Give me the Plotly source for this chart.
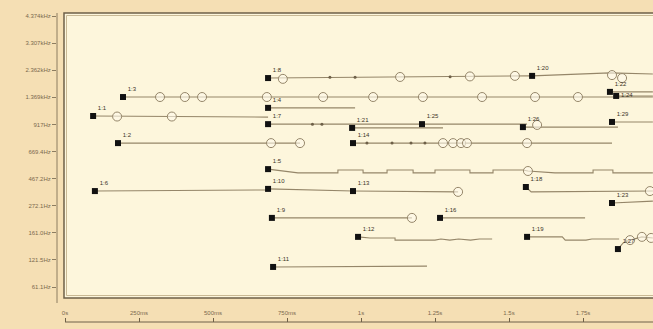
import plotly.graph_objects as go

# ---------------- data ----------------
x_tick_vals = [0, 0.25, 0.5, 0.75, 1.0, 1.25, 1.5, 1.75, 2.0]
x_tick_text = ["0s", "250ms", "500ms", "750ms", "1s", "1.25s", "1.5s", "1.75s", "2s"]

y_tick_vals = [0, 1, 2, 3, 4, 5, 6, 7, 8, 9, 10]
y_tick_text = ["61.1Hz", "121.5Hz", "161.0Hz", "272.1Hz", "467.2Hz", "669.4Hz",
               "917Hz", "1.369kHz", "2.362kHz", "3.307kHz", "4.374kHz"]

track_names = ["1:1", "1:3", "1:2", "1:8", "1:20", "1:4", "1:7", "1:21", "1:25",
               "1:26", "1:29", "1:14", "1:5", "1:6", "1:10", "1:13", "1:18",
               "1:23", "1:9", "1:16", "1:12", "1:19", "1:27", "1:11", "1:22", "1:24"]

track_t = [
    [0.095, 0.686],
    [0.196, 1.986],
    [0.179, 0.794],
    [0.686, 1.132, 1.571],
    [1.578, 1.841, 1.986],
    [0.686, 0.980],
    [0.686, 1.206],
    [0.970, 1.277],
    [1.206, 1.561],
    [1.547, 1.868],
    [1.848, 1.986],
    [0.973, 1.848],
    [0.686, 0.743, 0.787, 0.922, 0.922, 1.007, 1.007, 1.088, 1.088, 1.176, 1.176,
     1.250, 1.250, 1.368, 1.368, 1.446, 1.446, 1.547, 1.564, 1.655, 1.784, 1.784,
     1.851, 1.851, 1.986],
    [0.101, 0.686],
    [0.686, 0.973],
    [0.973, 1.328],
    [1.557, 1.575, 1.986],
    [1.848, 1.986],
    [0.699, 1.172],
    [1.267, 1.757],
    [0.990, 1.030, 1.115, 1.115, 1.250, 1.270, 1.300, 1.330, 1.370, 1.400, 1.443],
    [1.561, 1.680, 1.690, 1.760, 1.780, 1.872],
    [1.868, 1.885, 1.909, 1.949, 1.986],
    [0.703, 1.223],
    [1.841, 1.986],
    [1.862, 1.986],
]

track_lvl = [
    [6.31, 6.27],
    [7.01, 7.01],
    [5.31, 5.31],
    [7.71, 7.75, 7.79],
    [7.79, 7.90, 7.86],
    [6.61, 6.61],
    [6.01, 6.01],
    [5.87, 5.87],
    [6.01, 6.01],
    [5.90, 5.90],
    [6.09, 6.09],
    [5.31, 5.31],
    [4.35, 4.28, 4.21, 4.21, 4.32, 4.32, 4.21, 4.21, 4.32, 4.32, 4.21,
     4.21, 4.32, 4.32, 4.21, 4.21, 4.32, 4.32, 4.28, 4.21, 4.21, 4.32,
     4.32, 4.21, 4.21],
    [3.54, 3.58],
    [3.62, 3.54],
    [3.54, 3.51],
    [3.69, 3.51, 3.54],
    [3.10, 3.17],
    [2.55, 2.55],
    [2.55, 2.55],
    [1.85, 1.81, 1.81, 1.73, 1.73, 1.77, 1.73, 1.77, 1.73, 1.77, 1.77],
    [1.85, 1.85, 1.73, 1.73, 1.77, 1.77],
    [1.40, 1.62, 1.73, 1.85, 1.81],
    [0.74, 0.77],
    [7.20, 7.20],
    [7.05, 7.05],
]

label_pos = ["top right"] * 24 + ["top right", "middle right"]

circle_t = [0.176, 0.361,
            0.321, 0.405, 0.463, 0.682, 0.872, 1.041, 1.209, 1.409, 1.588, 1.733,
            0.696, 0.794,
            0.736, 1.132, 1.368, 1.520, 1.848, 1.882,
            1.595,
            1.277, 1.311, 1.338, 1.358, 1.561,
            1.564,
            1.328, 1.976,
            1.172,
            1.909, 1.949, 1.980]
circle_lvl = [6.29, 6.29,
              7.01, 7.01, 7.01, 7.01, 7.01, 7.01, 7.01, 7.01, 7.01, 7.01,
              5.31, 5.31,
              7.68, 7.75, 7.77, 7.79, 7.82, 7.71,
              5.98,
              5.31, 5.31, 5.31, 5.31, 5.31,
              4.28,
              3.51, 3.54,
              2.55,
              1.73, 1.85, 1.81]

dot_t = [0.895, 0.980, 1.301, 0.868, 0.836, 1.020, 1.169, 1.105, 1.216]
dot_lvl = [7.74, 7.74, 7.76, 6.01, 6.01, 5.31, 5.31, 5.31, 5.31]

# ---------------- styling helpers ----------------
W, H = 653, 329
BG = "#F5DFB4"
CREAM = "#FDF6DC"
LINE = "#958669"
TXT = "#7B6A4E"


def px(x):
    return x / W


def py(y):
    return 1 - y / H


fig = go.Figure()

for name, ts, ls in zip(track_names, track_t, track_lvl):
    fig.add_trace(go.Scatter(x=ts, y=ls, mode="lines",
                             line=dict(color=LINE, width=1.1),
                             hoverinfo="skip", showlegend=False))

fig.add_trace(go.Scatter(x=dot_t, y=dot_lvl, mode="markers",
                         marker=dict(symbol="circle", size=3, color="#6E6048"),
                         hoverinfo="skip", showlegend=False))

fig.add_trace(go.Scatter(x=circle_t, y=circle_lvl, mode="markers",
                         marker=dict(symbol="circle", size=9, color="rgba(255,250,235,0.6)",
                                     line=dict(color=LINE, width=1)),
                         hoverinfo="skip", showlegend=False))

start_t = [ts[0] for ts in track_t]
start_l = [ls[0] for ls in track_lvl]
fig.add_trace(go.Scatter(x=start_t, y=start_l, mode="markers+text",
                         marker=dict(symbol="square", size=6, color="#111111"),
                         text=track_names, textposition=label_pos,
                         textfont=dict(family="Liberation Sans", size=6, color="#3A3226"),
                         hoverinfo="skip", showlegend=False))

shapes = [
    # plot frame (cream area with dark double border)
    dict(type="rect", xref="paper", yref="paper", x0=px(64), x1=px(670), y0=py(298), y1=py(13),
         fillcolor=CREAM, line=dict(color="#6E6048", width=1.5), layer="below"),
    dict(type="rect", xref="paper", yref="paper", x0=px(66.5), x1=px(670), y0=py(295.5), y1=py(15.5),
         fillcolor="rgba(0,0,0,0)", line=dict(color="#C9B995", width=1), layer="below"),
    # y axis line
    dict(type="line", xref="paper", yref="paper", x0=px(57), x1=px(57), y0=py(303), y1=py(13),
         line=dict(color="#8C7C60", width=1)),
    # x axis line
    dict(type="line", xref="paper", yref="paper", x0=px(65), x1=px(653), y0=py(322), y1=py(322),
         line=dict(color="#6E6048", width=1)),
]

fig.update_layout(
    width=W, height=H,
    margin=dict(l=0, r=0, t=0, b=0),
    paper_bgcolor=BG, plot_bgcolor=BG,
    shapes=shapes,
    font=dict(family="Liberation Sans", size=6, color=TXT),
    xaxis=dict(domain=[px(57), 1], range=[(57 - 65) / 296, (653 - 65) / 296],
               tickvals=x_tick_vals, ticktext=x_tick_text,
               ticks="inside", ticklen=4, tickcolor="#6E6048",
               ticklabelposition="inside", showgrid=False, zeroline=False, showline=False,
               tickfont=dict(family="Liberation Sans", size=6, color=TXT)),
    yaxis=dict(domain=[7 / H, 1], range=[(287 - 322) / 27.1, 287 / 27.1],
               tickvals=y_tick_vals, ticktext=y_tick_text,
               ticks="outside", ticklen=4, tickcolor="#8C7C60",
               showgrid=False, zeroline=False, showline=False,
               tickfont=dict(family="Liberation Sans", size=6, color=TXT)),
)

fig.write_html(
    "out.html",
    config={"displayModeBar": False},
    post_script="document.body.style.margin='0';document.body.style.padding='0';"
                "document.body.style.overflow='hidden';",
)
